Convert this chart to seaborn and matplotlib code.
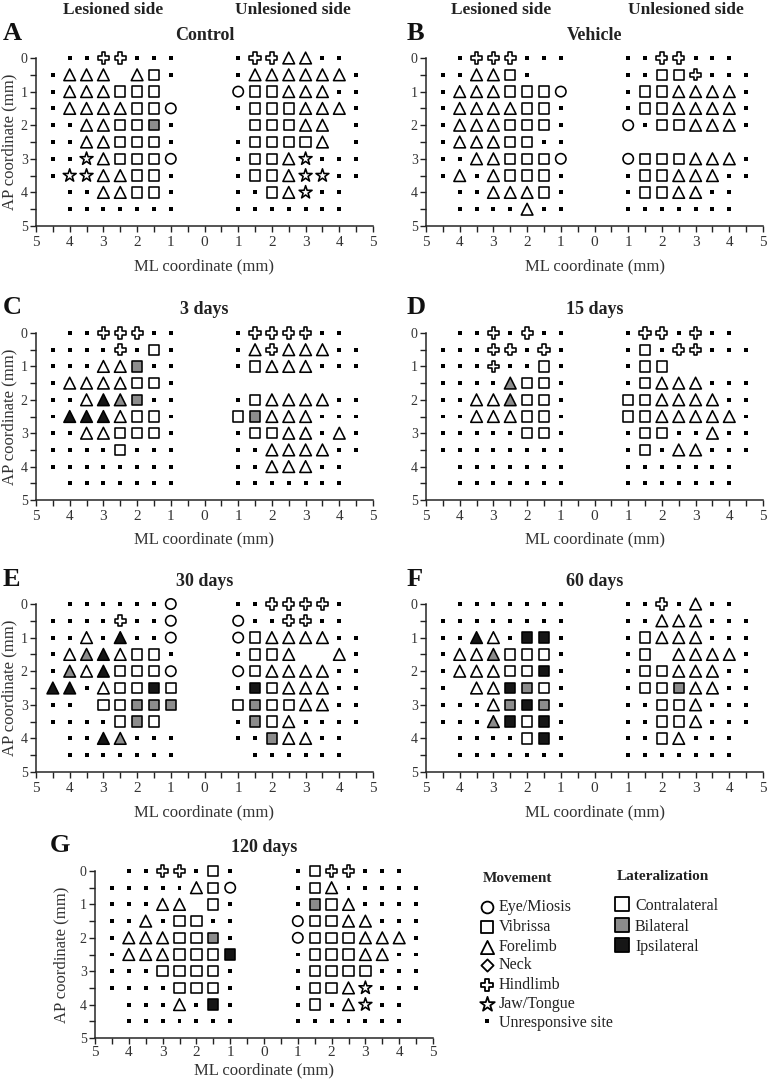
import matplotlib
matplotlib.use("Agg")
import matplotlib.pyplot as plt
import numpy as np
import pandas as pd
import seaborn as sns
from matplotlib.ticker import MultipleLocator, FuncFormatter

# ---------------- data ----------------
AP_ROWS = [0.0, 0.5, 1.0, 1.5, 2.0, 2.5, 3.0, 3.5, 4.0, 4.5]
LESIONED_ML = [4.5, 4.0, 3.5, 3.0, 2.5, 2.0, 1.5, 1.0]
UNLESIONED_ML = [1.0, 1.5, 2.0, 2.5, 3.0, 3.5, 4.0, 4.5]

PANEL_LETTERS = ["A", "B", "C", "D", "E", "F", "G"]
PANEL_TITLES = ["Control", "Vehicle", "3 days", "15 days", "30 days", "60 days", "120 days"]

# codes: '.' unresponsive, 'o' eye, 's' vibrissa, 'S' vibrissa bilateral, 'Q' vibrissa ipsilateral,
# 't' forelimb, 'T' forelimb bilateral, 'A' forelimb ipsilateral, 'h' hindlimb, '*' jaw/tongue, ' ' none
A_LES = [" ..hh...", ".ttt ts.", ".tttsss ", ".ttttsso", "..ttssS.",
         "..ttsss.", "..*tssso", ".**ttss.", " ..ttss.", " ......."]
A_UNL = [".hhtt.. ", ".tttttt.", "ossttt..", ".sssttt.", " ssstt .",
         ".sssst .", ".sst*...", ".sst**..", "..st*.. ", "....... "]
B_LES = [" .hhh...", "..tts.  ", ".tttssso", ".ttttss.", ".tttsss.",
         ".tttss..", "..ttssso", ".t.tsss.", " ..ttts.", " ....t.."]
B_UNL = ["..hh... ", "..ssh...", ".sstttt.", ".sstttt.", "o.ssttt.",
         "        ", "osssttt.", ".ssttt..", ".sstt.. ", "....... "]
C_LES = [" ..hhh..", "....h.s.", "...ttS..", ".ttttss.", "..tATS..",
         ".AAAtss.", "..ttsss.", "....s...", "........", " ......."]
C_UNL = [".hhhh.. ", ".thttt..", ".sttt...", "        ", ".stttt..",
         "sSttt...", ".sstt.t.", "..tttt..", "..ttt.. ", "....... "]
D_LES = [" ..h.h..", "...hh.h.", "...h..s.", "....Tss.", "..ttTss.",
         "..tttss.", ".....ss.", "........", " .......", " ......."]
D_UNL = [".hh.h.. ", ".s.hh...", ".ss     ", ".sttt...", "sstttt..",
         "ssttttt.", ".ss..t..", ".s.tt...", "....... ", "....... "]
E_LES = [" ......o", "....h..o", "..t.A..o", ".tTAtss.", ".TtAssso",
         "AA.tssQs", ".. ssSSS", "....sSs ", " ..AT...", " ......."]
E_UNL = ["..hhhh. ", "o..hh.. ", "ostttt..", ".sst  t.", "ostttt..",
         ".Qsttt..", "sSsstt..", ".Sst....", "..Stt.. ", " ...... "]
F_LES = [" .......", "........", "..At.QQ.", ".ttTsss.", ".tttssQ.",
         ". ttQSs.", "...tSQS.", "...TQsQ.", " ....sQ.", " ......."]
F_UNL = ["..h.t.. ", "..ttt...", ".sttt...", ".s tttt.", ".ssttt..",
         ".ssStt..", "..sst...", "..sst...", "..st... ", "....... "]
G_LES = [" ..hh.s.", ".....tso", "...tt s.", "..t.ss..", ".tttssS.",
         ".tttsssQ", "...ssss.", "....sss.", " ...t.Q.", " ......."]
G_UNL = [".shh... ", ".st.....", ".Sst....", "osstt...", "osssttt.",
         ".ssstt..", ".ssss...", ".sst*...", ".s.t*.. ", "....... "]

PANEL_GRIDS = {"A": (A_LES, A_UNL), "B": (B_LES, B_UNL), "C": (C_LES, C_UNL),
               "D": (D_LES, D_UNL), "E": (E_LES, E_UNL), "F": (F_LES, F_UNL),
               "G": (G_LES, G_UNL)}

CODE_MOVEMENT = {'.': 'Unresponsive site', 'o': 'Eye/Miosis', 's': 'Vibrissa', 'S': 'Vibrissa',
                 'Q': 'Vibrissa', 't': 'Forelimb', 'T': 'Forelimb', 'A': 'Forelimb',
                 'h': 'Hindlimb', '*': 'Jaw/Tongue'}
CODE_LAT = {'.': 'None', 'o': 'Contralateral', 's': 'Contralateral', 'S': 'Bilateral',
            'Q': 'Ipsilateral', 't': 'Contralateral', 'T': 'Bilateral', 'A': 'Ipsilateral',
            'h': 'Contralateral', '*': 'Contralateral'}

# ---------------- styles ----------------
MARKERS = {'Eye/Miosis': 'o', 'Vibrissa': 's', 'Forelimb': '^', 'Neck': 'D',
           'Hindlimb': 'P', 'Jaw/Tongue': '*'}
SIZES = {'Eye/Miosis': 7.5 ** 2, 'Vibrissa': 7.4 ** 2, 'Forelimb': 8.4 ** 2,
         'Hindlimb': 8.0 ** 2, 'Jaw/Tongue': 9.8 ** 2}
FILL = {'Contralateral': '#ffffff', 'Bilateral': '#8c8c8c', 'Ipsilateral': '#161616'}

rows = []
for letter, (les, unl) in PANEL_GRIDS.items():
    for side, grid, mls, sign in (("Lesioned", les, LESIONED_ML, -1), ("Unlesioned", unl, UNLESIONED_ML, 1)):
        for ap, line in zip(AP_ROWS, grid):
            for ml, c in zip(mls, line):
                if c == ' ':
                    continue
                rows.append(dict(panel=letter, side=side, ml=ml, x=sign * ml, ap=ap,
                                 movement=CODE_MOVEMENT[c], lat=CODE_LAT[c]))
df = pd.DataFrame(rows)

# ---------------- figure ----------------
sns.set_style("ticks")
plt.rcParams['font.family'] = ['Liberation Serif', 'DejaVu Serif']
plt.rcParams['axes.linewidth'] = 1.1

W, H = 767, 1080
fig = plt.figure(figsize=(W / 100, H / 100), dpi=100)


def fx(px):
    return px / W


def fy(py):
    return 1 - py / H


# axes pixel boxes: left, right, top (AP 0), bottom (AP 5)
BOXES = {"A": (36, 373, 58, 226), "B": (426, 763, 58, 226),
         "C": (36, 373, 333, 500), "D": (426, 763, 333, 500),
         "E": (36, 373, 604, 772), "F": (426, 763, 604, 772),
         "G": (95, 433, 871, 1038)}

for letter, title in zip(PANEL_LETTERS, PANEL_TITLES):
    l, r, t, b = BOXES[letter]
    ax = fig.add_axes([fx(l), fy(b), (r - l) / W, (b - t) / H])
    d = df[df.panel == letter]
    dots = d[d.movement == 'Unresponsive site']
    resp = d[d.movement != 'Unresponsive site']
    sns.scatterplot(data=dots, x='x', y='ap', marker='s', s=8, color='black',
                    edgecolor='none', linewidth=0, legend=False, ax=ax, clip_on=False, zorder=3)
    sns.scatterplot(data=resp, x='x', y='ap', hue='lat', palette=FILL,
                    style='movement', markers=MARKERS, size='movement', sizes=SIZES,
                    edgecolor='black', linewidth=1.15, legend=False, ax=ax,
                    clip_on=False, zorder=4)
    ax.set_xlim(-5, 5)
    ax.set_ylim(5, 0)
    ax.xaxis.set_major_locator(MultipleLocator(1))
    ax.xaxis.set_minor_locator(MultipleLocator(0.5))
    ax.yaxis.set_major_locator(MultipleLocator(1))
    ax.yaxis.set_minor_locator(MultipleLocator(0.5))
    ax.xaxis.set_major_formatter(FuncFormatter(lambda v, p: f"{abs(int(round(v)))}"))
    ax.yaxis.set_major_formatter(FuncFormatter(lambda v, p: f"{int(round(v))}"))
    pad = 1.5 if letter == "G" else 3.5
    ax.tick_params(which='both', direction='out', length=4, width=1.0,
                   labelsize=11, pad=pad, color='#222222', labelcolor='#333333')
    ax.tick_params(axis='y', which='both', labelsize=10, pad=2)
    sns.despine(ax=ax)
    ax.set_xlabel("ML coordinate (mm)", fontsize=12, color='#333333', va='top')
    ax.xaxis.set_label_coords(0.5, -0.145 if letter == "G" else -0.19)
    if letter in ("A", "C", "E", "G"):
        ax.set_ylabel("AP coordinate (mm)", fontsize=12, color='#333333', va='center')
        off = -27 if letter != "G" else -34
        ax.yaxis.set_label_coords(off / (r - l), 0.5)
    else:
        ax.set_ylabel("")
    # title and panel letter
    cx = (l + r) / 2
    fig.text(fx(cx), fy(t - 23), title, ha='center', va='center',
             fontsize=13, fontweight='bold', color='#222222')
    lx = {"A": 3, "B": 407, "C": 3, "D": 407, "E": 3, "F": 407, "G": 50}[letter]
    fig.text(fx(lx), fy(t - 25), letter, ha='left', va='center',
             fontsize=19, fontweight='bold', color='#111111')

# column headers
for cx, txt in ((113, "Lesioned side"), (293, "Unlesioned side"),
                (501, "Lesioned side"), (686, "Unlesioned side")):
    fig.text(fx(cx), fy(10), txt, ha='center', va='center', fontsize=12.5,
             fontweight='bold', color='#222222')

# ---------------- legend ----------------
LEGEND_MOVEMENT = ['Eye/Miosis', 'Vibrissa', 'Forelimb', 'Neck', 'Hindlimb', 'Jaw/Tongue',
                   'Unresponsive site']
LEGEND_LAT = ['Contralateral', 'Bilateral', 'Ipsilateral']
axl = fig.add_axes([0, 0, 1, 1], zorder=-1)
axl.set_xlim(0, W)
axl.set_ylim(H, 0)
axl.axis('off')
axl.text(483, 878, "Movement", ha='left', va='center', fontsize=11, fontweight='bold', color='#222222')
mov_y = [907, 927, 947, 965, 985, 1004, 1023]
leg_sizes = {'Eye/Miosis': 8.5 ** 2, 'Vibrissa': 8.5 ** 2, 'Forelimb': 9.5 ** 2, 'Neck': 6.2 ** 2,
             'Hindlimb': 9 ** 2, 'Jaw/Tongue': 11 ** 2}
for name, yy in zip(LEGEND_MOVEMENT, mov_y):
    if name == 'Unresponsive site':
        axl.scatter([487], [yy - 2], marker='s', s=12, color='black', edgecolor='none')
    else:
        axl.scatter([487], [yy], marker=MARKERS[name], s=leg_sizes[name],
                    facecolor='white', edgecolor='black', linewidth=1.3)
    axl.text(499, yy, name, ha='left', va='center', fontsize=11.5, color='#222222')
axl.text(617, 877, "Lateralization", ha='left', va='center', fontsize=11, fontweight='bold',
         color='#222222')
lat_y = [906, 927, 947]
for name, yy in zip(LEGEND_LAT, lat_y):
    axl.scatter([622], [yy - 2], marker='s', s=10 ** 2, facecolor=FILL[name],
                edgecolor='black', linewidth=1.3)
    axl.text(635, yy, name, ha='left', va='center', fontsize=11.5, color='#222222')

fig.savefig("out.png", dpi=100)
